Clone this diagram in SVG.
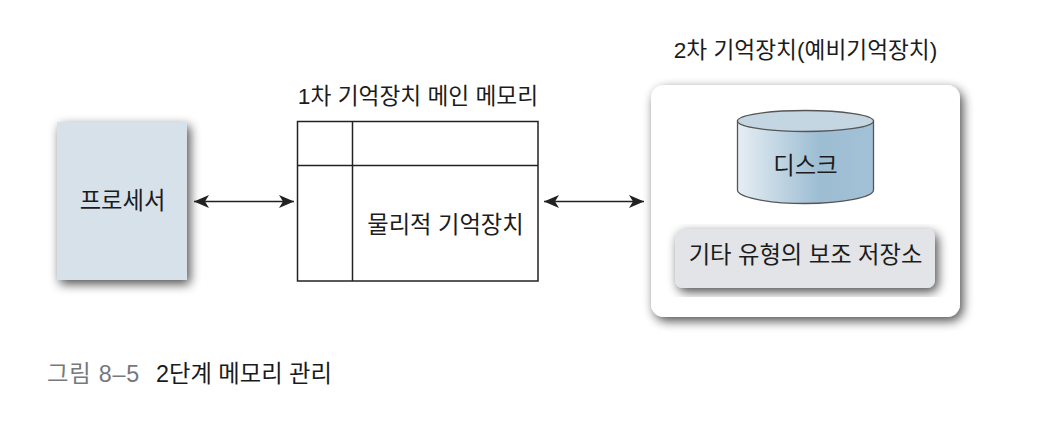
<svg xmlns="http://www.w3.org/2000/svg" width="1060" height="424" viewBox="0 0 1060 424">
<style>
text{font-family:"Liberation Sans","Noto Sans CJK KR",sans-serif;font-size:23.300px;fill:#1c1c1c}
.c{text-anchor:middle}
.t{font-size:22.700px}
.cap{font-size:23.300px}
.ln{fill:none;stroke:#222;stroke-width:1.500}
.arr{fill:none;stroke:#222;stroke-width:1.300;marker-start:url(#ah);marker-end:url(#ah)}
</style>
<defs>
<marker id="ah" markerUnits="userSpaceOnUse" markerWidth="16" markerHeight="14" refX="15" refY="7" orient="auto-start-reverse"><path d="M0,0.500 L15,7 L0,13.500 L4,7 Z" fill="#222"/></marker>
<filter id="sh" x="-15%" y="-15%" width="130%" height="130%"><feGaussianBlur in="SourceAlpha" stdDeviation="5.500" result="b"/><feOffset in="b" dx="3" dy="4" result="o"/><feComponentTransfer in="o" result="p"><feFuncA type="linear" slope="0.700"/></feComponentTransfer><feMerge><feMergeNode in="p"/><feMergeNode in="SourceGraphic"/></feMerge></filter>
<linearGradient id="cyl" x1="0" x2="1" y1="0" y2="0"><stop offset="0" stop-color="#e6eef3"/><stop offset="0.6" stop-color="#9dbdd3"/><stop offset="1" stop-color="#a3c1d6"/></linearGradient>
</defs>
<rect width="1060" height="424" fill="#fff"/>
<g id="processor">
<rect x="57" y="122" width="130" height="158" fill="#d7e1ea" filter="url(#sh)"/>
<text class="c" x="122.500" y="209">프로세서</text>
</g>
<g id="main-memory">
<text class="c t" x="418" y="104">1차 기억장치 메인 메모리</text>
<rect class="ln" x="297.500" y="121.500" width="240.500" height="159.500" fill="#fff"/>
<path class="ln" d="M352.500,121.500V281M297.500,165.500H538"/>
<text class="c" x="445.500" y="233">물리적 기억장치</text>
</g>
<g id="secondary-storage">
<text class="c t" x="805.500" y="58">2차 기억장치(예비기억장치)</text>
<rect x="651" y="85" width="309" height="232" rx="13" fill="#fff" filter="url(#sh)"/>
</g>
<g id="disk">
<path d="M737.500,121V190C737.500,197 767,203.500 805,203.500S873.500,197 873.500,190V121Z" fill="url(#cyl)" stroke="#555" stroke-width="1.300"/>
<ellipse cx="805.500" cy="121" rx="68" ry="10.500" fill="#c5d6e3" stroke="#555" stroke-width="1.300"/>
<text class="c" x="805.500" y="174">디스크</text>
</g>
<g id="other-storage">
<rect x="675" y="229" width="260" height="59" rx="8" fill="#e3e4e7" filter="url(#sh)"/>
<text class="c" x="805.500" y="263">기타 유형의 보조 저장소</text>
</g>
<g id="connectors">
<path class="arr" d="M194,201.500H294"/>
<path class="arr" d="M544,201.500H644"/>
</g>
<g id="caption">
<text class="cap" x="47" y="382" style="fill:#77787b;letter-spacing:0.800px">그림 8–5</text>
<text class="cap" x="156" y="382" style="fill:#1a1a1a">2단계 메모리 관리</text>
</g>
</svg>
